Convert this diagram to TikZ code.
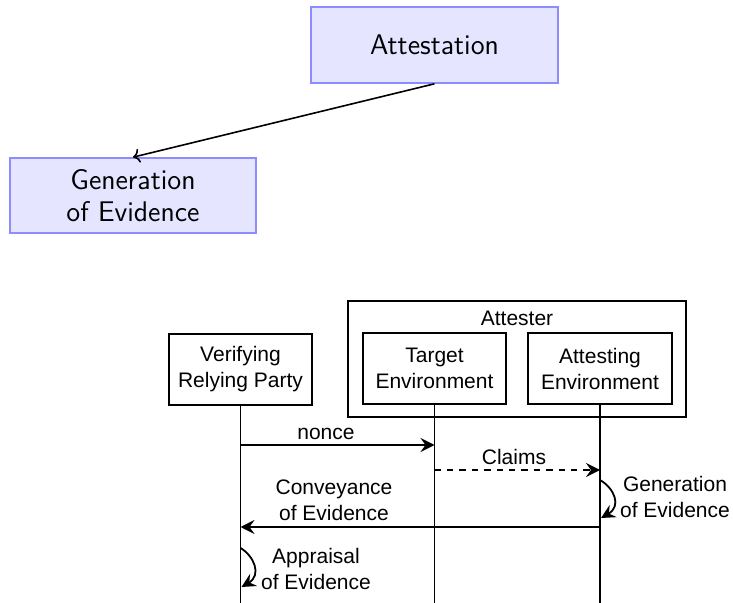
\documentclass[tikz,border=0pt]{standalone}
\usepackage{fontspec}
\newfontfamily\arialfont{Liberation Sans}
\usetikzlibrary{arrows.meta}

\tikzset{
        phase/.style={draw=blue!45, fill=blue!10, line width=0.8pt, align=center, inner sep=0pt,
                font=\sffamily\fontsize{14.2}{16}\selectfont},
        actor/.style={draw, line width=0.9pt, minimum width=71.5pt, minimum height=35.5pt, align=center,
                inner sep=0pt, font=\arialfont\fontsize{10.5}{13}\selectfont},
        msg/.style={align=center, inner sep=0pt, font=\arialfont\fontsize{10.5}{13}\selectfont},
        tip/.style={-{Stealth[length=7pt,width=7pt,inset=2.5pt]}, line width=0.9pt},
}

\begin{document}
\begin{tikzpicture}[x=0.5pt, y=-0.5pt]
        \useasboundingbox (0,0) rectangle (733,603);

        \node[phase, minimum width=123.5pt, minimum height=38pt] (attest) at (434.5,45) {Attestation};
        \node[phase, minimum width=123pt, minimum height=37.5pt] (gen) at (133,195.5) {Generation\\of Evidence};
        \draw[->, line width=0.8pt] (attest.south) -- (gen.north);

        \node[draw, line width=0.9pt, minimum width=169pt, minimum height=58pt, inner sep=0pt] (attester) at (517,359) {};
        \node[msg] (attesterlbl) at (517,318) {Attester};
        \node[actor] (vrp) at (240.5,369.5) {Verifying\\Relying Party};
        \node[actor] (target) at (434.5,368.5) {Target\\Environment};
        \node[actor, minimum width=72pt] (attenv) at (600,368.5) {Attesting\\Environment};

        \coordinate (vrpend) at (240.5,603);
        \coordinate (targetend) at (434.5,603);
        \coordinate (attenvend) at (600,603);
        \draw[line width=0.9pt] (vrp.south) -- (vrpend);
        \draw[line width=0.9pt] (target.south) -- (targetend);
        \draw[line width=0.9pt] (attenv.south) -- (attenvend);

        \coordinate (nonceA) at (240.5,445);
        \coordinate (nonceB) at (434.5,445);
        \coordinate (claimsA) at (434.5,470);
        \coordinate (claimsB) at (600,470);
        \coordinate (convA) at (600,527);
        \coordinate (convB) at (240.5,527);
        \coordinate (genA) at (600,480);
        \coordinate (genB) at (601,518);
        \coordinate (apprA) at (240.5,548);
        \coordinate (apprB) at (241.5,587);

        \draw[tip] (nonceA) -- (nonceB);
        \draw[tip, dash pattern=on 3.2pt off 3pt] (claimsA) -- (claimsB);
        \draw[tip] (convA) -- (convB);
        \draw[tip] (genA) .. controls (614,488) and (622,506) .. (genB);
        \draw[tip] (apprA) .. controls (254,556) and (262,575) .. (apprB);

        \node[msg] (noncelbl) at (326,434) {nonce};
        \node[msg] (claimslbl) at (514,457) {Claims};
        \node[msg] (convlbl) at (334,500) {Conveyance\\of Evidence};
        \node[msg] (genlbl) at (675,497) {Generation\\of Evidence};
        \node[msg] (apprlbl) at (316,568.5) {Appraisal\\of Evidence};
\end{tikzpicture}
\end{document}
